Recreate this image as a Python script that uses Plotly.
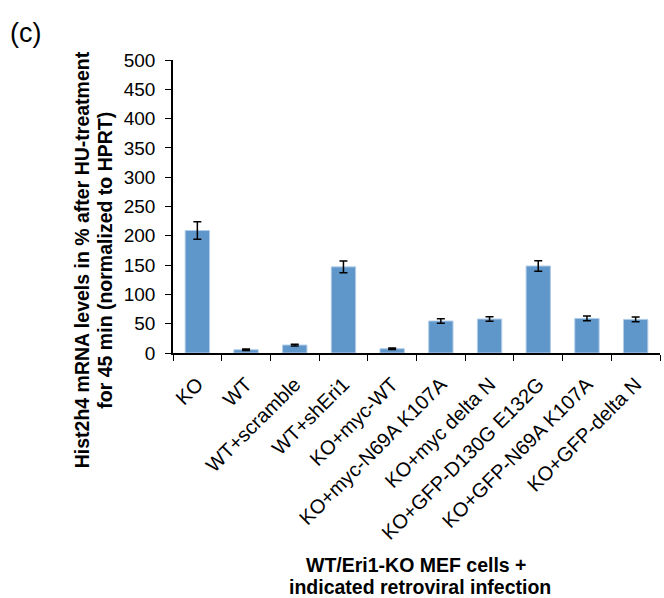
import plotly.graph_objects as go

categories = ["KO", "WT", "WT+scramble", "WT+shEri1", "KO+myc-WT",
              "KO+myc-N69A K107A", "KO+myc delta N", "KO+GFP-D130G E132G",
              "KO+GFP-N69A K107A", "KO+GFP-delta N"]
values = [209, 5.6, 13.6, 147, 7.3, 54.6, 58, 148.5, 59, 57.3]
errors = [15, 1.2, 1.5, 10, 1.2, 4, 4, 9, 4, 4]
y_ticks = [0, 50, 100, 150, 200, 250, 300, 350, 400, 450, 500]

font_family = "Liberation Sans, Arial, sans-serif"

fig = go.Figure(go.Bar(
    x=categories,
    y=values,
    marker=dict(color="#6097cb", line=dict(color="#b3cde8", width=1)),
    error_y=dict(type="data", array=errors, visible=True,
                 color="#000000", thickness=1.5, width=4),
))

fig.update_layout(
    width=664, height=598,
    margin=dict(l=173, r=4, t=60, b=245),
    paper_bgcolor="white", plot_bgcolor="white",
    bargap=0.5,
    showlegend=False,
    font=dict(family=font_family, color="#000000"),
    xaxis=dict(
        type="category",
        tickangle=-45,
        tickfont=dict(size=20, family=font_family),
        showline=True, linecolor="#000000", linewidth=1.5,
        ticks="outside", ticklen=6, tickcolor="#000000",
        tickson="boundaries",
        ticklabelstandoff=10,
        showgrid=False,
    ),
    yaxis=dict(
        range=[0, 500],
        tickvals=y_ticks,
        tickfont=dict(size=19, family=font_family),
        showline=True, linecolor="#000000", linewidth=1.5,
        ticks="outside", ticklen=6, tickcolor="#000000",
        ticklabelstandoff=6,
        showgrid=False, zeroline=False,
    ),
    annotations=[
        dict(text="(c)", xref="paper", yref="paper", x=-0.338, y=1.092,
             xanchor="left", yanchor="middle", showarrow=False,
             font=dict(size=27, family=font_family)),
        dict(text="<b>Hist2h4 mRNA levels in % after HU-treatment</b>",
             xref="paper", yref="paper", x=-0.188, y=0.318,
             xanchor="center", yanchor="middle", textangle=-90,
             showarrow=False, font=dict(size=19.5, family=font_family)),
        dict(text="<b>for 45 min (normalized to HPRT)</b>",
             xref="paper", yref="paper", x=-0.140, y=0.318,
             xanchor="center", yanchor="middle", textangle=-90,
             showarrow=False, font=dict(size=19.5, family=font_family)),
        dict(text="<b>WT/Eri1-KO MEF cells +</b>",
             xref="paper", yref="paper", x=0.501, y=-0.724,
             xanchor="center", yanchor="middle",
             showarrow=False, font=dict(size=19.5, family=font_family)),
        dict(text="<b>indicated retroviral infection</b>",
             xref="paper", yref="paper", x=0.507, y=-0.800,
             xanchor="center", yanchor="middle",
             showarrow=False, font=dict(size=19.5, family=font_family)),
    ],
)

fig.write_html("out.html")
